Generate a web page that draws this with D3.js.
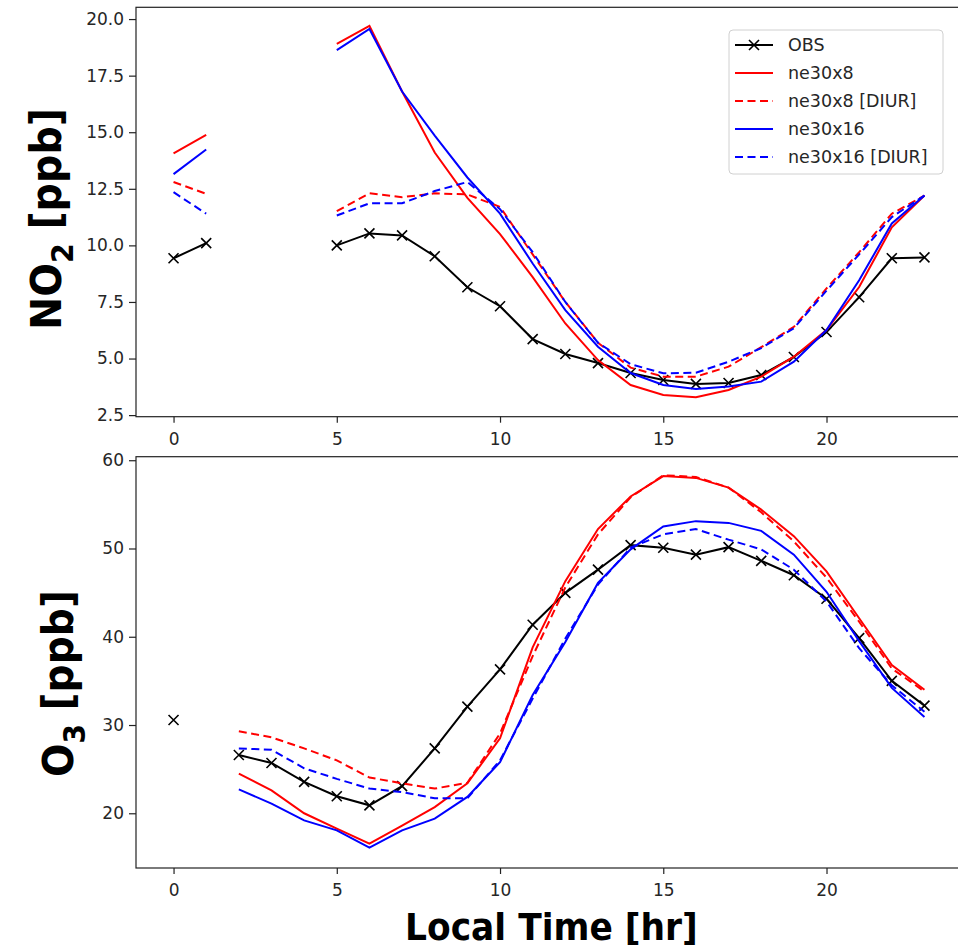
<!DOCTYPE html>
<html>
<head>
<meta charset="utf-8">
<script src="https://cdn.jsdelivr.net/npm/d3@7"></script>
<style>
  body { margin: 0; background: #fff; }
  svg { display: block; }
</style>
</head>
<body>
<svg id="chart" width="958" height="952"></svg>
<script>
// local hour of day
const hours = [0, 1, 2, 3, 4, 5, 6, 7, 8, 9, 10, 11, 12, 13, 14, 15, 16, 17, 18, 19, 20, 21, 22, 23];

// NO2 [ppb], null = no data
const no2Obs    = [9.43, 10.1, null, null, null, 10.0, 10.53, 10.44, 9.52, 8.15, 7.31, 5.86, 5.2, 4.8, 4.36, 4.05, 3.88, 3.92, 4.27, 5.07, 6.17, 7.71, 9.43, 9.47];
const no2Ne8    = [14.07, 14.88, null, null, null, 18.9, 19.7, 16.8, 14.1, 12.1, 10.5, 8.6, 6.55, 4.93, 3.83, 3.39, 3.29, 3.61, 4.2, 5.08, 6.26, 8.16, 10.8, 12.2];
const no2Ne8D   = [12.8, 12.28, null, null, null, 11.51, 12.3, 12.13, 12.3, 12.25, 11.7, 9.6, 7.5, 5.7, 4.6, 4.2, 4.2, 4.64, 5.5, 6.4, 8.1, 9.7, 11.4, 12.2];
const no2Ne16   = [13.15, 14.24, null, null, null, 18.63, 19.56, 16.8, 14.85, 13.0, 11.4, 9.2, 7.14, 5.52, 4.36, 3.83, 3.65, 3.76, 3.98, 4.86, 6.26, 8.46, 10.97, 12.2];
const no2Ne16D  = [12.35, 11.4, null, null, null, 11.32, 11.86, 11.86, 12.4, 12.8, 11.6, 9.7, 7.5, 5.7, 4.75, 4.35, 4.37, 4.86, 5.46, 6.34, 8.0, 9.6, 11.25, 12.2];

// O3 [ppb]
const o3Obs     = [30.57, null, 26.6, 25.7, 23.56, 21.93, 20.9, 23.07, 27.35, 32.08, 36.3, 41.36, 44.97, 47.6, 50.38, 50.08, 49.3, 50.15, 48.6, 46.97, 44.3, 39.85, 35.0, 32.2];
const o3Ne8     = [null, null, 24.5, 22.6, 20.0, 18.26, 16.56, 18.6, 20.7, 23.4, 28.5, 38.8, 46.3, 52.2, 55.9, 58.2, 58.0, 56.9, 54.4, 51.4, 47.4, 42.1, 36.8, 34.0];
const o3Ne8D    = [null, null, 29.3, 28.6, 27.35, 26.0, 24.05, 23.4, 22.8, 23.45, 29.05, 37.8, 45.6, 51.6, 55.8, 58.3, 58.1, 56.9, 54.1, 50.8, 46.7, 41.7, 36.4, 33.8];
const o3Ne16    = [null, null, 22.7, 21.1, 19.2, 18.07, 16.1, 18.07, 19.4, 21.85, 25.8, 33.4, 39.4, 46.1, 49.9, 52.5, 53.1, 52.9, 52.0, 49.3, 45.1, 39.5, 34.2, 30.9];
const o3Ne16D   = [null, null, 27.35, 27.2, 25.1, 23.9, 22.8, 22.4, 21.7, 21.7, 26.0, 33.0, 39.8, 45.9, 50.1, 51.6, 52.2, 51.0, 49.9, 47.6, 44.0, 38.7, 34.5, 31.5];

const seriesNames = ["OBS", "ne30x8", "ne30x8 [DIUR]", "ne30x16", "ne30x16 [DIUR]"];
const xTicks = [0, 5, 10, 15, 20];
const no2Ticks = [2.5, 5.0, 7.5, 10.0, 12.5, 15.0, 17.5, 20.0];
const o3Ticks = [20, 30, 40, 50, 60];

const styles = [
  { color: "#000", dash: null, marker: true },
  { color: "#ff0000", dash: null },
  { color: "#ff0000", dash: "8,4.5" },
  { color: "#0000ff", dash: null },
  { color: "#0000ff", dash: "8,4.5" }
];

const svg = d3.select("#chart");
const x = d3.scaleLinear().domain([-1.15, 24.15]).range([136, 962]);
const tickFont = "'DejaVu Sans', sans-serif";
const xMark = "M-5,-5L5,5M-5,5L5,-5";

function drawPanel(yScale, data, yTicks, yFmt) {
  const [y0, y1] = yScale.range();
  const g = svg.append("g");

  data.forEach((vals, k) => {
    const st = styles[k];
    const pts = hours.map((h, i) => [h, vals[i]]);
    const line = d3.line()
      .defined(d => d[1] != null)
      .x(d => x(d[0]))
      .y(d => yScale(d[1]));
    g.append("path")
      .attr("d", line(pts))
      .attr("fill", "none")
      .attr("stroke", st.color)
      .attr("stroke-width", 2)
      .attr("stroke-dasharray", st.dash);
    if (st.marker) {
      g.selectAll(null)
        .data(pts.filter(d => d[1] != null))
        .enter().append("path")
        .attr("d", xMark)
        .attr("transform", d => `translate(${x(d[0])},${yScale(d[1])})`)
        .attr("stroke", st.color)
        .attr("stroke-width", 1.6)
        .attr("fill", "none");
    }
  });

  // frame
  svg.append("rect")
    .attr("x", x.range()[0]).attr("y", y1)
    .attr("width", x.range()[1] - x.range()[0]).attr("height", y0 - y1)
    .attr("fill", "none").attr("stroke", "#222").attr("stroke-width", 1.2);

  const ax = svg.append("g")
    .attr("transform", `translate(0,${y0})`)
    .call(d3.axisBottom(x).tickValues(xTicks).tickSize(6).tickPadding(10));
  const ay = svg.append("g")
    .attr("transform", `translate(${x.range()[0]},0)`)
    .call(d3.axisLeft(yScale).tickValues(yTicks).tickFormat(yFmt).tickSize(7).tickPadding(5));
  [ax, ay].forEach(a => {
    a.select(".domain").remove();
    a.selectAll("line").attr("stroke", "#222").attr("stroke-width", 1.2);
    a.selectAll("text").attr("fill", "#262626")
      .style("font-family", tickFont).style("font-size", "17px");
  });
}

const yNo2 = d3.scaleLinear().domain([2.43, 20.52]).range([416.7, 7.3]);
const yO3 = d3.scaleLinear().domain([13.8, 60.4]).range([868, 456.7]);

drawPanel(yNo2, [no2Obs, no2Ne8, no2Ne8D, no2Ne16, no2Ne16D], no2Ticks, d3.format(".1f"));
drawPanel(yO3, [o3Obs, o3Ne8, o3Ne8D, o3Ne16, o3Ne16D], o3Ticks, d3.format("d"));

// legend
const leg = svg.append("g").attr("transform", "translate(729,30)");
leg.append("rect")
  .attr("width", 214).attr("height", 144).attr("rx", 4)
  .attr("fill", "#fff").attr("fill-opacity", 0.8)
  .attr("stroke", "#d0d0d0").attr("stroke-width", 1);
seriesNames.forEach((name, k) => {
  const st = styles[k];
  const ry = 15 + k * 28;
  leg.append("line")
    .attr("x1", 6).attr("x2", 44).attr("y1", ry).attr("y2", ry)
    .attr("stroke", st.color).attr("stroke-width", 2)
    .attr("stroke-dasharray", st.dash);
  if (st.marker) {
    leg.append("path").attr("d", xMark)
      .attr("transform", `translate(25,${ry})`)
      .attr("stroke", st.color).attr("stroke-width", 1.6);
  }
  leg.append("text")
    .attr("x", 59).attr("y", ry).attr("dy", "0.36em")
    .attr("fill", "#262626")
    .style("font-family", tickFont).style("font-size", "17.5px")
    .text(name);
});

// axis titles, stretched to the reference's extent
function fitText(t, target) {
  const len = t.node().getComputedTextLength();
  t.attr("transform", `scale(${target / len},1)`);
}
const titleFont = "'DejaVu Sans', sans-serif";

const xt = svg.append("g").attr("transform", "translate(405,940)")
  .append("text")
  .style("font-family", titleFont).style("font-weight", "bold").style("font-size", "37px")
  .attr("fill", "#000")
  .text("Local Time [hr]");
fitText(xt, 293);

function yTitle(px, py, base, sub, rest, target) {
  const t = svg.append("g").attr("transform", `translate(${px},${py}) rotate(-90)`)
    .append("text")
    .style("font-family", titleFont).style("font-weight", "bold").style("font-size", "42px")
    .attr("fill", "#000");
  t.append("tspan").text(base);
  t.append("tspan").attr("dy", 12).style("font-size", "30px").text(sub);
  t.append("tspan").attr("dy", -12).text(rest);
  fitText(t, target);
}
yTitle(61, 330, "NO", "2", " [ppb]", 222);
yTitle(73, 777, "O", "3", " [ppb]", 187);
</script>
</body>
</html>
